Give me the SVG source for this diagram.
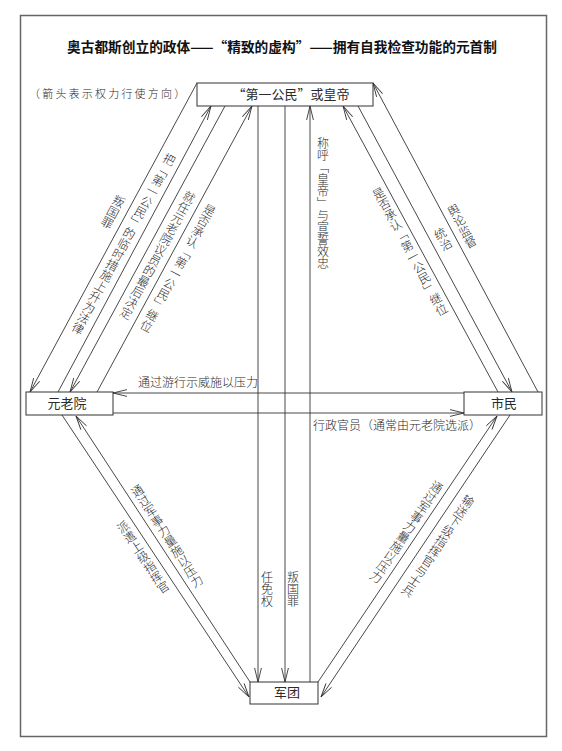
<svg xmlns="http://www.w3.org/2000/svg" width="562" height="751" viewBox="0 0 562 751">
<defs>
<marker id="ah" markerWidth="16" markerHeight="10" refX="15" refY="4" orient="auto" markerUnits="userSpaceOnUse"><path d="M1,0.6 L15,4 L1,7.4" fill="none" stroke="#333" stroke-width="0.9"/></marker>
<style>
.frame{fill:#fff;stroke:#666;stroke-width:1.5}
.box{fill:#fff;stroke:#333;stroke-width:1}
.ln{stroke:#333;stroke-width:0.9;fill:none;marker-end:url(#ah)}
text{font-family:"Noto Sans CJK SC","Noto Sans CJK JP",sans-serif;fill:#2a2a2a}
.t{font-size:13.5px;font-weight:bold;fill:#111}
.n{font-size:13px}
.l{font-size:12px;font-weight:300}
.v{font-size:12px;font-weight:300;writing-mode:vertical-rl;text-anchor:middle}
.note{font-size:11px;letter-spacing:2.2px;font-weight:300}
</style>
</defs>
<rect class="frame" x="20.5" y="15.5" width="526" height="721"/>
<text class="t" x="282" y="52" text-anchor="middle" textLength="430" lengthAdjust="spacingAndGlyphs">奥古都斯创立的政体——“精致的虚构”——拥有自我检查功能的元首制</text>
<text class="note" x="29" y="98">（箭头表示权力行使方向）</text>

<g id="connectors">
<line class="ln" x1="197" y1="83" x2="30" y2="392"/>
<line class="ln" x1="58" y1="392" x2="211" y2="106"/>
<line class="ln" x1="225" y1="106" x2="70" y2="392"/>
<line class="ln" x1="97" y1="392" x2="252" y2="106"/>
<line class="ln" x1="498" y1="392" x2="343" y2="106"/>
<line class="ln" x1="358" y1="106" x2="512" y2="392"/>
<line class="ln" x1="538" y1="392" x2="373" y2="83"/>
<line class="ln" x1="258" y1="106" x2="258" y2="682"/>
<line class="ln" x1="285" y1="106" x2="285" y2="682"/>
<line class="ln" x1="310" y1="682" x2="310" y2="106"/>
<line class="ln" x1="464" y1="393" x2="113" y2="393"/>
<line class="ln" x1="113" y1="413" x2="464" y2="413"/>
<line class="ln" x1="62" y1="415" x2="249" y2="697"/>
<line class="ln" x1="250" y1="682" x2="76" y2="416"/>
<line class="ln" x1="318" y1="682" x2="497" y2="416"/>
<line class="ln" x1="510" y1="415" x2="321" y2="697"/>
</g>

<g id="labels">
<text class="v" x="113" y="212" transform="rotate(28.4 113 212)">叛国罪</text>
<text class="v" x="123.6" y="244" transform="rotate(28.4 123.6 244)">把「第一公民」的临时措施上升为法律</text>
<text class="v" x="157.7" y="255" transform="rotate(28.5 157.7 255)">就任元老院议员的最后决定</text>
<text class="v" x="178" y="268" transform="rotate(28.5 178 268)">是否承认「第一公民」继位</text>
<text class="v" x="410" y="251.5" transform="rotate(-28.4 410 251.5)">是否承认「第一公民」继位</text>
<text class="v" x="443" y="239" transform="rotate(-28.3 443 239)">统治</text>
<text class="v" x="462" y="226" transform="rotate(-28.1 462 226)">舆论监督</text>
<text class="v" x="323" y="203">称呼「皇帝」与宣誓效忠</text>
<text class="v" x="267" y="589">任免权</text>
<text class="v" x="293" y="589">叛国罪</text>
<text class="l" x="138" y="387">通过游行示威施以压力</text>
<text class="l" x="313" y="430">行政官员（通常由元老院选派）</text>
<text class="v" x="167" y="536" transform="rotate(-33.3 167 536)">通过军事力量施以压力</text>
<text class="v" x="143" y="557" transform="rotate(-33.5 143 557)">派遣上级指挥官</text>
<text class="v" x="406.5" y="532" transform="rotate(33.9 406.5 532)">通过军事力量施以压力</text>
<text class="v" x="438" y="546" transform="rotate(33.8 438 546)">输送下级指挥官与士兵</text>
</g>

<g id="node-emperor">
<rect class="box" x="197" y="83" width="176" height="23"/>
<text class="n" x="291" y="99" text-anchor="middle">“第一公民”或皇帝</text>
</g>
<g id="node-senate">
<rect class="box" x="26" y="392" width="87" height="23"/>
<text class="n" x="67" y="408" text-anchor="middle">元老院</text>
</g>
<g id="node-citizens">
<rect class="box" x="464" y="392" width="78" height="23"/>
<text class="n" x="504" y="408" text-anchor="middle">市民</text>
</g>
<g id="node-legion">
<rect class="box" x="250" y="682" width="68" height="22"/>
<text class="n" x="287" y="697" text-anchor="middle">军团</text>
</g>
</svg>
